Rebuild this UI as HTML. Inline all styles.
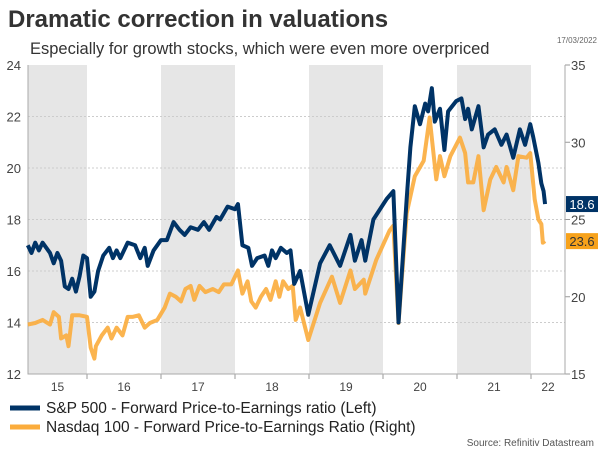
<!DOCTYPE html>
<html><head><meta charset="utf-8"><style>
body{margin:0;width:600px;height:450px;background:#fff;font-family:"Liberation Sans",sans-serif;overflow:hidden}
svg{display:block}
</style></head><body>
<svg width="600" height="450">
<text x="8" y="27" font-size="24" font-weight="bold" fill="#333">Dramatic correction in valuations</text>
<text x="30" y="54" font-size="16.5" fill="#333">Especially for growth stocks, which were even more overpriced</text>
<text x="597" y="43" font-size="8" fill="#666" text-anchor="end">17/03/2022</text>
<g id="bands"></g><g id="grid"></g><g id="axes"></g><g id="lines"></g><g id="labels"></g>
<line x1="10" y1="408" x2="40" y2="408" stroke="#003366" stroke-width="5"/>
<text x="46" y="413" font-size="15.5" fill="#222">S&amp;P 500 - Forward Price-to-Earnings ratio (Left)</text>
<line x1="10" y1="427" x2="40" y2="427" stroke="#fbac3c" stroke-width="5"/>
<text x="46" y="432" font-size="15.5" fill="#222">Nasdaq 100 - Forward Price-to-Earnings Ratio (Right)</text>
<text x="594" y="446" font-size="10" fill="#555" text-anchor="end">Source: Refinitiv Datastream</text>
</svg>
<script>
const years=["15","16","17","18","19","20","21","22"];
const leftTicks=[12,14,16,18,20,22,24];
const rightTicks=[15,20,25,30,35];
const spT=[2015.2,2015.25,2015.3,2015.35,2015.4,2015.45,2015.5,2015.55,2015.6,2015.65,2015.7,2015.75,2015.8,2015.85,2015.9,2015.95,2016.0,2016.05,2016.1,2016.15,2016.22,2016.3,2016.35,2016.4,2016.45,2016.55,2016.65,2016.72,2016.78,2016.82,2016.9,2017.0,2017.08,2017.17,2017.25,2017.32,2017.4,2017.5,2017.58,2017.65,2017.75,2017.8,2017.9,2018.0,2018.04,2018.1,2018.18,2018.23,2018.3,2018.4,2018.45,2018.5,2018.55,2018.62,2018.7,2018.75,2018.8,2018.88,2018.99,2019.15,2019.28,2019.42,2019.56,2019.62,2019.71,2019.76,2019.87,2020.05,2020.14,2020.21,2020.32,2020.37,2020.43,2020.5,2020.57,2020.61,2020.66,2020.7,2020.77,2020.83,2020.88,2020.99,2021.06,2021.11,2021.15,2021.2,2021.29,2021.36,2021.42,2021.51,2021.6,2021.67,2021.76,2021.85,2021.92,2021.99,2022.03,2022.1,2022.14,2022.17,2022.19];
const spV=[17.0,16.7,17.1,16.8,17.1,16.9,16.7,16.3,16.7,16.4,15.4,15.3,15.7,15.2,15.8,16.6,16.5,15.0,15.2,16.0,16.6,16.9,16.5,16.8,16.5,17.1,17.0,16.5,16.9,16.2,16.8,17.2,17.2,17.9,17.6,17.4,17.7,17.6,17.9,17.6,18.1,18.0,18.5,18.4,18.6,17.0,16.9,16.2,16.5,16.6,16.2,16.8,16.5,16.9,16.7,16.8,15.5,16.0,14.3,16.3,17.0,16.2,17.4,16.4,17.2,16.4,18.0,18.8,19.1,14.0,18.8,20.8,22.4,21.7,22.5,22.2,23.1,21.8,22.3,20.7,22.2,22.6,22.7,21.9,22.3,21.5,22.4,20.8,21.3,21.5,20.9,21.3,20.4,21.5,20.9,21.7,21.2,20.2,19.4,19.1,18.6];
const ndT=[2015.2,2015.3,2015.4,2015.5,2015.55,2015.62,2015.65,2015.72,2015.75,2015.8,2015.9,2016.0,2016.05,2016.1,2016.12,2016.2,2016.28,2016.33,2016.4,2016.48,2016.55,2016.62,2016.7,2016.78,2016.85,2016.95,2017.05,2017.12,2017.2,2017.27,2017.33,2017.4,2017.45,2017.52,2017.6,2017.7,2017.78,2017.85,2017.95,2018.04,2018.1,2018.17,2018.22,2018.28,2018.35,2018.42,2018.48,2018.55,2018.6,2018.65,2018.72,2018.78,2018.82,2018.88,2018.99,2019.15,2019.31,2019.42,2019.56,2019.62,2019.74,2019.76,2019.91,2020.09,2020.14,2020.21,2020.32,2020.43,2020.55,2020.63,2020.72,2020.77,2020.83,2020.91,2021.04,2021.11,2021.15,2021.22,2021.29,2021.36,2021.45,2021.53,2021.63,2021.67,2021.76,2021.83,2021.94,2021.99,2022.05,2022.1,2022.14,2022.16,2022.19];
const ndV=[18.2,18.3,18.5,18.2,19.0,18.7,17.3,17.5,16.8,18.8,18.8,18.7,16.7,16.0,16.8,17.5,18.0,17.3,18.0,17.5,18.7,18.7,18.8,18.0,18.3,18.5,19.3,20.2,20.0,19.7,20.5,20.7,19.8,20.7,20.3,20.5,20.3,20.8,20.8,21.7,20.2,21.0,19.7,19.3,20.0,20.5,19.8,21.0,20.0,21.0,20.5,20.7,18.5,19.3,17.2,19.6,21.3,19.6,21.7,20.5,21.1,20.2,22.4,24.3,24.6,18.3,25.4,27.8,28.8,31.6,27.6,29.1,27.8,29.1,30.3,29.3,27.4,27.4,29.1,25.6,27.6,28.4,27.4,28.4,26.9,29.1,29.0,29.3,26.3,25.0,24.7,23.5,23.6];
const NS="http://www.w3.org/2000/svg";
const X0=28,X1=565,Y0=65,Y1=374;
const xS=t=>87+(t-2016)*74;
const yL=v=>Y1-(v-12)/12*(Y1-Y0);
const yR=v=>Y1-(v-15)/20*(Y1-Y0);
function mk(tag,attrs,parent){const e=document.createElementNS(NS,tag);for(const k in attrs)e.setAttribute(k,attrs[k]);document.getElementById(parent).appendChild(e);return e;}
years.forEach((y,i)=>{
 const s=Math.max(X0,xS(2015+i)),e=Math.min(X1,xS(2016+i));
 if(i%2===0){const r=mk('rect',{x:s,y:Y0,width:xS(2016+i)-s,height:Y1-Y0,fill:'#e6e6e6'},'bands');
 
 }
 const t=mk('text',{x:(s+Math.min(e,xS(2016+i)))/2,y:391,'font-size':12,fill:'#444','text-anchor':'middle'},'axes');
 t.textContent=y;
 
 
 if(i>0){const tk=mk('line',{x1:xS(2015+i),y1:Y1,x2:xS(2015+i),y2:Y1+5,stroke:'#999'},'axes');
 
 }
});
leftTicks.forEach(v=>{
 if(v>12&&v<24){const g=mk('line',{x1:X0,y1:yL(v),x2:X1,y2:yL(v),stroke:'#ccc','stroke-dasharray':'2,2'},'grid');
 
 }
 const t=mk('text',{x:21,y:yL(v)+5,'font-size':13,fill:'#444','text-anchor':'end'},'axes');
 t.textContent=v;
 
 
});
rightTicks.forEach(v=>{
 const t=mk('text',{x:571,y:yR(v)+5,'font-size':13,fill:'#444'},'axes');
 t.textContent=v;
 
 
 const tk=mk('line',{x1:X1,y1:yR(v),x2:X1+5,y2:yR(v),stroke:'#999'},'axes');
 
 
});
const ax=mk('path',{d:`M${X0},${Y0}V${Y1}H${X1}V${Y0}`,fill:'none',stroke:'#aaa'},'axes');


const nd=mk('polyline',{points:ndT.map((t,i)=>xS(t)+','+yR(ndV[i])).join(' '),fill:'none',stroke:'#fbac3c','stroke-width':4,'stroke-linejoin':'round','stroke-opacity':0.9},'lines');


const sp=mk('polyline',{points:spT.map((t,i)=>xS(t)+','+yL(spV[i])).join(' '),fill:'none',stroke:'#003366','stroke-width':4,'stroke-linejoin':'round'},'lines');


function tag(v,y,col,txt,name){
 const r=mk('rect',{x:566,y:y-8,width:32,height:16,fill:col},'labels');
 
 
 const t=mk('text',{x:582,y:y+5,'font-size':13,fill:txt,'text-anchor':'middle'},'labels');
 t.textContent=v.toFixed(1);
 
 
}
tag(spV[spV.length-1],yL(spV[spV.length-1]),'#003366','#fff','sp500-last-value');
tag(ndV[ndV.length-1],yR(ndV[ndV.length-1]),'#f7a21b','#333','nasdaq-last-value');
</script>
</body></html>
